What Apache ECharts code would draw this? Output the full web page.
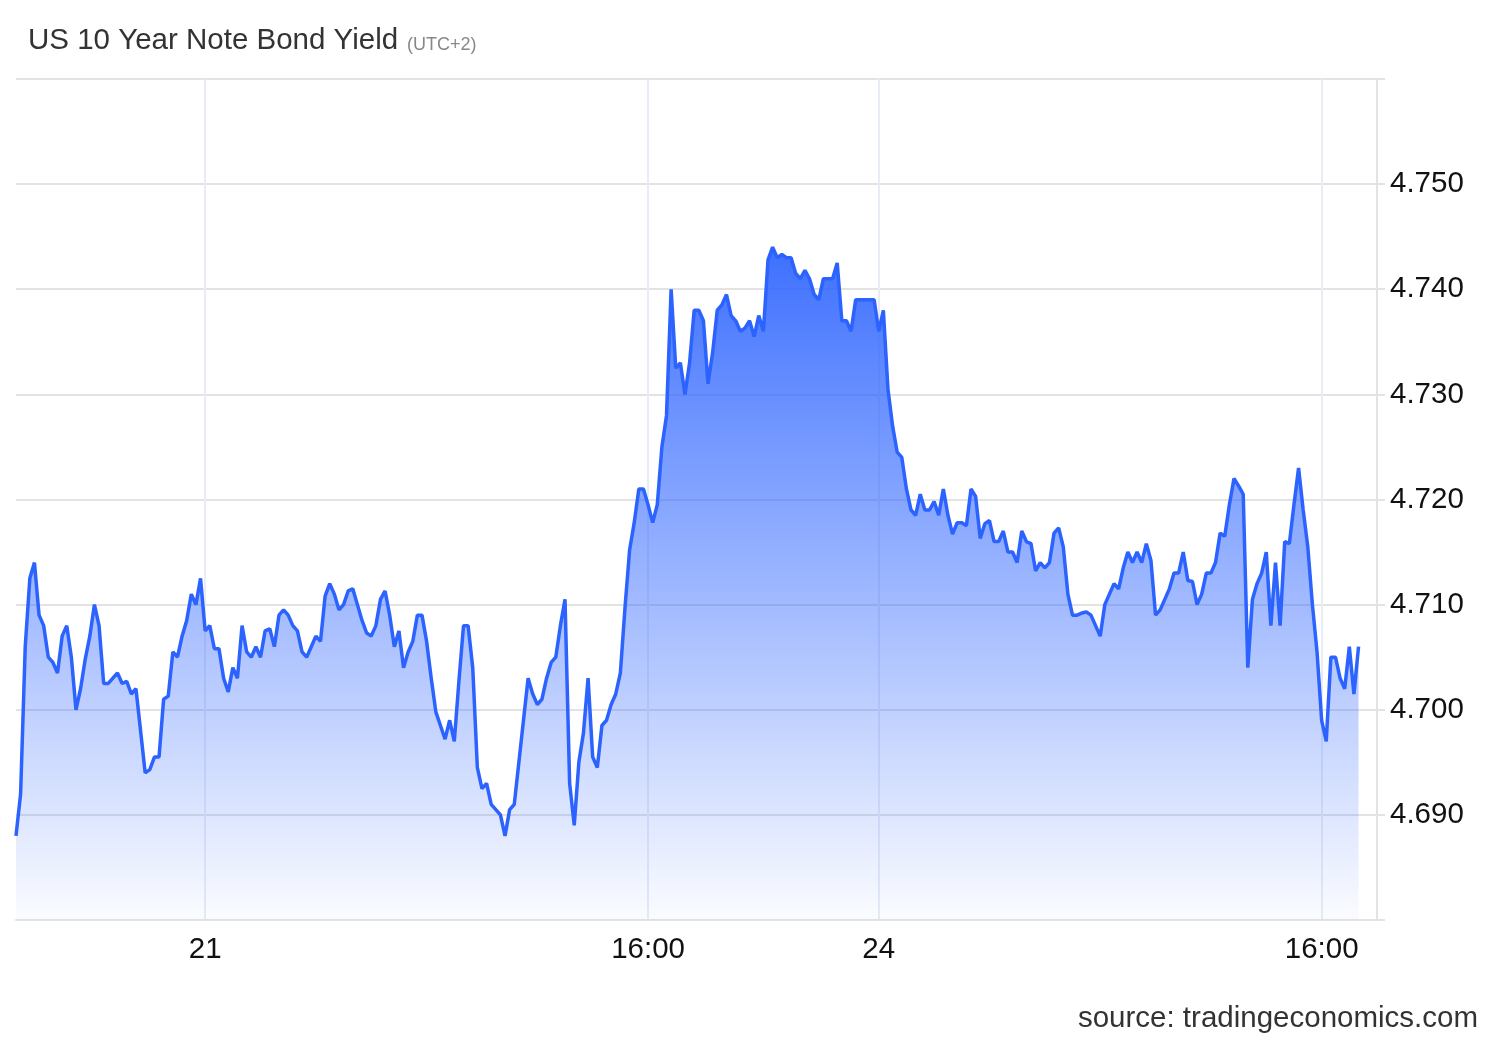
<!DOCTYPE html>
<html>
<head>
<meta charset="utf-8">
<title>US 10 Year Note Bond Yield</title>
<script src="https://cdn.jsdelivr.net/npm/echarts/dist/echarts.min.js"></script>
<style>
	html, body { margin: 0; padding: 0; background: #fff; }
	#chart { width: 1500px; height: 1040px; }
</style>
</head>
<body>
<div id="chart"></div>
<script>
	// 交易时段: 日期, 起始分钟, 10分钟点数
	var sessions = [
		{ day: 20, start: 17 * 60 + 10, count: 41 },
		{ day: 21, start: 0, count: 144 },
		{ day: 23, start: 23 * 60 + 40, count: 2 },
		{ day: 24, start: 0, count: 109 }
	];

	// 横轴刻度
	var tickTimes = ['21 00:00', '21 16:00', '24 00:00', '24 16:00'];
	var tickLabels = ['21', '16:00', '24', '16:00'];

	// 收益率 (每10分钟)
	var yields = [
		4.688, 4.692, 4.706, 4.7125, 4.714, 4.709, 4.708, 4.705, 4.7045, 4.7035,
		4.707, 4.708, 4.705, 4.700, 4.702, 4.7048, 4.707, 4.710, 4.708, 4.7025,
		4.7025, 4.703, 4.7035, 4.7025, 4.7027, 4.7015, 4.702, 4.698, 4.694, 4.6943,
		4.6955, 4.6955, 4.701, 4.7013, 4.7055, 4.705, 4.707, 4.7085, 4.711, 4.710,
		4.7125, 4.7075, 4.708, 4.7058, 4.7058, 4.703, 4.7017, 4.704, 4.703, 4.708,
		4.7055, 4.705, 4.706, 4.705, 4.7075, 4.7077, 4.706, 4.709, 4.7095, 4.709,
		4.708, 4.7075, 4.7055, 4.705, 4.706, 4.707, 4.7065, 4.7108, 4.712, 4.711,
		4.7095, 4.710, 4.7113, 4.7115, 4.710, 4.7085, 4.7073, 4.707, 4.708, 4.7105,
		4.7113, 4.709, 4.706, 4.7075, 4.704, 4.7055, 4.7065, 4.709, 4.709, 4.7065,
		4.703, 4.6998, 4.6985, 4.6972, 4.699, 4.697, 4.7027, 4.708, 4.708, 4.704,
		4.6945, 4.6925, 4.693, 4.691, 4.6905, 4.690, 4.688, 4.6905, 4.691, 4.695,
		4.699, 4.703, 4.7015, 4.7005, 4.701, 4.703, 4.7045, 4.705, 4.708, 4.7105,
		4.693, 4.689, 4.695, 4.6978, 4.703, 4.6955, 4.6945, 4.6985, 4.699, 4.7005,
		4.7015, 4.7035, 4.7097, 4.7152, 4.7178, 4.721, 4.721, 4.7195, 4.7178, 4.7195,
		4.725, 4.728, 4.740, 4.7325, 4.733, 4.730, 4.733, 4.738, 4.738, 4.737,
		4.731, 4.734, 4.738, 4.7385, 4.7395, 4.7375, 4.737, 4.736, 4.7363, 4.737,
		4.7355, 4.7375, 4.736, 4.7428, 4.744, 4.743, 4.7433, 4.743, 4.743, 4.7415,
		4.741, 4.7418, 4.741, 4.7395, 4.739, 4.741, 4.741, 4.741, 4.7425, 4.737,
		4.737, 4.736, 4.739, 4.739, 4.739, 4.739, 4.739, 4.736, 4.738, 4.7305,
		4.727, 4.7245, 4.724, 4.721, 4.719, 4.7185, 4.7205, 4.719, 4.719, 4.7198,
		4.7185, 4.721, 4.7185, 4.7167, 4.7178, 4.7178, 4.7175, 4.721, 4.7203, 4.7163,
		4.7177, 4.718, 4.716, 4.716, 4.717, 4.715, 4.715, 4.714, 4.717, 4.716,
		4.7158, 4.7132, 4.714, 4.7135, 4.714, 4.7168, 4.7173, 4.7155, 4.711, 4.709,
		4.709, 4.7092, 4.7093, 4.709, 4.708, 4.707, 4.710, 4.711, 4.712, 4.7115,
		4.7135, 4.715, 4.714, 4.715, 4.714, 4.7158, 4.7142, 4.709, 4.7095, 4.7105,
		4.7115, 4.713, 4.713, 4.715, 4.7123, 4.7122, 4.710, 4.711, 4.713, 4.713,
		4.714, 4.7168, 4.7165, 4.7195, 4.722, 4.7213, 4.7205, 4.704, 4.7105, 4.712,
		4.713, 4.715, 4.708, 4.714, 4.708, 4.716, 4.7158, 4.7195, 4.723, 4.719,
		4.7155, 4.710, 4.7055, 4.699, 4.697, 4.705, 4.705, 4.703, 4.702, 4.706,
		4.7015, 4.706
	];

	function pad(n) {
		return n < 10 ? '0' + n : '' + n;
	}

	// 时间类目
	var times = [];
	sessions.forEach(function (s) {
		for (var k = 0; k < s.count; k++) {
			var m = s.start + k * 10;
			times.push(s.day + ' ' + pad(Math.floor(m / 60)) + ':' + pad(m % 60));
		}
	});

	function isTick(index, value) {
		return tickTimes.indexOf(value) > -1;
	}

	var font = '"Liberation Sans", Arial, sans-serif';
	var blue = '#2c63ff';

	var option = {
		animation: false,
		// 标题
		title: [
			{
				text: '{main|US 10 Year Note Bond Yield}{sub|(UTC+2)}',
				left: 28,
				top: 26,
				padding: 0,
				textStyle: {
					fontFamily: font,
					fontWeight: 'normal',
					rich: {
						main: { fontSize: 29.5, color: '#333', fontFamily: font, fontWeight: 'normal' },
						sub: { fontSize: 18, color: '#888', fontFamily: font, fontWeight: 'normal', padding: [8, 0, 0, 9] }
					}
				}
			},
			{
				text: 'source: tradingeconomics.com',
				right: 22,
				top: 1004,
				padding: 0,
				textStyle: {
					fontFamily: font,
					fontSize: 29.5,
					fontWeight: 'normal',
					color: '#333'
				}
			}
		],
		grid: {
			left: 16,
			right: 123,
			top: 79,
			bottom: 120
		},
		xAxis: {
			type: 'category',
			data: times,
			boundaryGap: false,
			axisLine: { lineStyle: { color: '#e3e3e3', width: 2 } },
			axisTick: { show: false },
			axisLabel: {
				interval: isTick,
				margin: 15,
				color: '#111',
				fontSize: 29.5,
				fontFamily: font,
				formatter: function (value) {
					return tickLabels[tickTimes.indexOf(value)];
				}
			},
			splitLine: {
				show: true,
				interval: isTick,
				lineStyle: { color: '#e8edf5', width: 2 }
			}
		},
		yAxis: {
			type: 'value',
			position: 'right',
			min: 4.68,
			max: 4.76,
			interval: 0.01,
			axisLine: { show: true, lineStyle: { color: '#e3e3e3', width: 2 } },
			axisTick: { show: true, length: 8, lineStyle: { color: '#e3e3e3', width: 2 } },
			axisLabel: {
				margin: 13,
				color: '#111',
				fontSize: 29.5,
				fontFamily: font,
				formatter: function (v) {
					if (Math.abs(v - 4.76) < 1e-6 || Math.abs(v - 4.68) < 1e-6) {
						return '';
					}
					return v.toFixed(3);
				}
			},
			splitLine: { lineStyle: { color: '#e3e3e3', width: 2 } }
		},
		series: [
			{
				type: 'line',
				data: yields,
				symbol: 'none',
				lineStyle: { color: blue, width: 3.5 },
				areaStyle: {
					origin: 'start',
					opacity: 1,
					// 渐变 (像素坐标: 峰值 -> 底部)
					color: new echarts.graphic.LinearGradient(0, 237, 0, 920, [
						{ offset: 0, color: 'rgba(44,99,255,0.93)' },
						{ offset: 1, color: 'rgba(44,99,255,0.02)' }
					], true)
				}
			}
		]
	};

	var chart = echarts.init(document.getElementById('chart'));
	chart.setOption(option);
</script>
</body>
</html>
